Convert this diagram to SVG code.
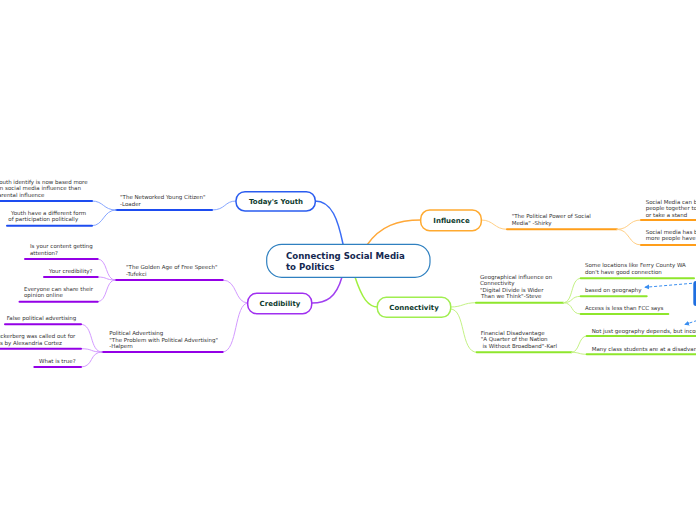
<svg xmlns="http://www.w3.org/2000/svg" width="696" height="520" viewBox="0 0 696 520">
<defs>
<style>
.t{font-family:"DejaVu Sans",Verdana,sans-serif;font-size:5.5px;fill:#333}
.mt{font-family:"DejaVu Sans",Verdana,sans-serif;font-size:7px;font-weight:bold;fill:#0e3b2e;text-anchor:middle}
.ct{font-family:"DejaVu Sans",Verdana,sans-serif;font-size:8.6px;font-weight:bold;fill:#142850}
.c{fill:none;stroke-linecap:round}
.ub{stroke:#1d4cf0;stroke-width:2}
.cb{stroke:#86a6ff;stroke-width:1}
.up{stroke:#9400e6;stroke-width:2}
.cp{stroke:#d39aff;stroke-width:1}
.uo{stroke:#ff9e1a;stroke-width:2}
.co{stroke:#ffcf85;stroke-width:1}
.ul{stroke:#8ee62c;stroke-width:2}
.cl{stroke:#c4f285;stroke-width:1}
.node{fill:#fff;stroke-width:1.5}
.dash{fill:none;stroke:#3a8ef0;stroke-width:1;stroke-dasharray:3,2}
</style>
<marker id="ah" viewBox="0 0 6 6" refX="5" refY="3" markerWidth="5" markerHeight="5" orient="auto">
<path d="M0,0 L6,3 L0,6 z" fill="#3a8ef0"/>
</marker>
</defs>
<rect width="696" height="520" fill="#fff"/>

<g id="connectors">
<!-- main -->
<path class="c" d="M315,201 C332,201 338,220 343,244" stroke="#3a6cf5" stroke-width="1.5"/>
<path class="c" d="M367,245 C380,226 398,220 421,220" stroke="#ffa838" stroke-width="1.5"/>
<path class="c" d="M342,277 C336,298 326,303 312,303" stroke="#a040f0" stroke-width="1.5"/>
<path class="c" d="M355,277 C362,298 368,307 378,307" stroke="#a0f040" stroke-width="1.5"/>
<!-- youth -->
<path class="c cb" d="M212,210 C226,210 224,201 236,201"/>
<path class="c ub" d="M116,210 L212,210"/>
<path class="c cb" d="M92,201 C104,201 103,210 116,210"/>
<path class="c cb" d="M92,225.7 C104,225.7 103,210 116,210"/>
<path class="c ub" d="M-2,201 L92,201"/>
<path class="c ub" d="M7,225.7 L92,225.7"/>
<!-- credibility -->
<path class="c cp" d="M222.7,280 C238,280 234,303 248,303"/>
<path class="c cp" d="M222.7,352 C238,352 234,303 248,303"/>
<path class="c up" d="M115,280 L222.7,280"/>
<path class="c up" d="M102,352 L222.7,352"/>
<path class="c cp" d="M97.7,259 C108,259 105,280 115,280"/>
<path class="c cp" d="M97.7,277 C108,277 105,280 115,280"/>
<path class="c cp" d="M97.7,301.7 C108,301.7 105,280 115,280"/>
<path class="c up" d="M25,259 L97.7,259"/>
<path class="c up" d="M44,277 L97.7,277"/>
<path class="c up" d="M19.5,301.7 L97.7,301.7"/>
<path class="c cp" d="M81,324.3 C94,324.3 89,352 102,352"/>
<path class="c cp" d="M81,348.7 C94,348.7 89,352 102,352"/>
<path class="c cp" d="M81,367 C94,367 89,352 102,352"/>
<path class="c up" d="M5,324.3 L81,324.3"/>
<path class="c up" d="M-2,348.7 L81,348.7"/>
<path class="c up" d="M34.3,367 L81,367"/>
<!-- influence -->
<path class="c co" d="M481.3,220 C494,220 494,229.3 507,229.3"/>
<path class="c uo" d="M507,229.3 L617,229.3"/>
<path class="c co" d="M617,229.3 C630,229.3 628,220 641,220"/>
<path class="c co" d="M617,229.3 C630,229.3 628,245 641,245"/>
<path class="c uo" d="M641,220 L698,220"/>
<path class="c uo" d="M641,245 L698,245"/>
<!-- connectivity -->
<path class="c cl" d="M450.7,307 C463,307 463,302.7 476,302.7"/>
<path class="c cl" d="M450.7,309 C466,309 460,352.3 476.7,352.3"/>
<path class="c ul" d="M476,302.7 L563.3,302.7"/>
<path class="c ul" d="M476.7,352.3 L571.7,352.3"/>
<path class="c cl" d="M563.3,302.7 C574,302.7 570,278.3 580.7,278.3"/>
<path class="c cl" d="M563.3,302.7 C574,302.7 570,296.3 580.7,296.3"/>
<path class="c cl" d="M563.3,302.7 C574,302.7 570,314 580.7,314"/>
<path class="c ul" d="M580.7,278.3 L694,278.3"/>
<path class="c ul" d="M580.7,296.3 L646.7,296.3"/>
<path class="c ul" d="M580.7,314 L668.3,314"/>
<path class="c cl" d="M571.7,352.3 C580,352.3 578,336 586.7,336"/>
<path class="c cl" d="M571.7,352.3 C580,352.3 578,354.3 586.7,354.3"/>
<path class="c ul" d="M586.7,336 L698,336"/>
<path class="c ul" d="M586.7,354.3 L698,354.3"/>
<!-- relationships -->
<path class="dash" d="M692,283.3 L645,287.3" marker-end="url(#ah)"/>
<path class="dash" d="M697,320.5 L685,324.5" marker-end="url(#ah)"/>
</g>

<g id="central">
<rect x="266.7" y="244.3" width="163.3" height="33" rx="15" fill="#fff" stroke="#2f80c0" stroke-width="1.2"/>
<text class="ct" x="286" y="259">Connecting Social Media</text>
<text class="ct" x="286" y="270.3">to Politics</text>
</g>

<g id="todays-youth">
<rect class="node" x="236" y="191.7" width="79.3" height="19.3" rx="9" stroke="#2a5cf0"/>
<text class="mt" x="276" y="204">Today's Youth</text>
</g>
<g id="networked">
<text class="t" x="120" y="198.7">"The Networked Young Citizen"</text>
<text class="t" x="120" y="205.7">-Loader</text>
</g>
<g id="youth-identity">
<text class="t" x="-3.5" y="184">Youth identify is now based more</text>
<text class="t" x="-3.5" y="190.3">on social media influence than</text>
<text class="t" x="-5.5" y="196.7">parental influence</text>
</g>
<g id="youth-participation">
<text class="t" x="11" y="215">Youth have a different form</text>
<text class="t" x="8.3" y="221.3">of participation politically</text>
</g>

<g id="credibility">
<rect class="node" x="247.7" y="293.3" width="64" height="20.4" rx="9" stroke="#a030f0"/>
<text class="mt" x="280" y="305.8">Credibility</text>
</g>
<g id="golden-age">
<text class="t" x="126" y="269">"The Golden Age of Free Speech"</text>
<text class="t" x="126" y="275.7">-Tufekci</text>
</g>
<g id="content-attention">
<text class="t" x="30" y="248">Is your content getting</text>
<text class="t" x="30" y="254.7">attention?</text>
</g>
<g id="your-credibility">
<text class="t" x="49" y="272.7">Your credibility?</text>
</g>
<g id="share-opinion">
<text class="t" x="24" y="291">Everyone can share their</text>
<text class="t" x="24" y="297.3">opinion online</text>
</g>
<g id="political-advertising">
<text class="t" x="109.3" y="335">Political Advertising</text>
<text class="t" x="109.3" y="341.5">"The Problem with Political Advertising"</text>
<text class="t" x="109.3" y="348.3">-Halpern</text>
</g>
<g id="false-ads">
<text class="t" x="6.7" y="320.3">False political advertising</text>
</g>
<g id="zuckerberg">
<text class="t" x="75.3" y="338" text-anchor="end">Zuckerberg was called out for</text>
<text class="t" x="62" y="344.7" text-anchor="end">ads by Alexandria Cortez</text>
</g>
<g id="what-is-true">
<text class="t" x="39" y="362.7">What is true?</text>
</g>

<g id="influence">
<rect class="node" x="420.7" y="210" width="60.6" height="20.7" rx="9" stroke="#ffaa30"/>
<text class="mt" x="451.5" y="222.8">Influence</text>
</g>
<g id="political-power">
<text class="t" x="511.7" y="218">"The Political Power of Social</text>
<text class="t" x="511.7" y="225">Media" -Shirky</text>
</g>
<g id="bring-together">
<text class="t" x="645.7" y="203.5">Social Media can bring</text>
<text class="t" x="645.7" y="210">people together to</text>
<text class="t" x="645.7" y="216.5">or take a stand</text>
</g>
<g id="more-people">
<text class="t" x="645.7" y="233.7">Social media has brought</text>
<text class="t" x="645.7" y="240">more people have</text>
</g>

<g id="connectivity">
<rect class="node" x="377.3" y="297.3" width="73.4" height="20" rx="9" stroke="#a0ee50"/>
<text class="mt" x="414" y="309.8">Connectivity</text>
</g>
<g id="geographical">
<text class="t" x="480" y="279">Geographical influence on</text>
<text class="t" x="480" y="285.3">Connectivity</text>
<text class="t" x="480" y="291.7">"Digital Divide is Wider</text>
<text class="t" x="481" y="298"> Than we Think"-Steve</text>
</g>
<g id="ferry-county">
<text class="t" x="585" y="267">Some locations like Ferry County WA</text>
<text class="t" x="585" y="273.7">don't have good connection</text>
</g>
<g id="based-geography">
<text class="t" x="585" y="291.7">based on geography</text>
</g>
<g id="access-fcc">
<text class="t" x="585" y="309.7">Access is less than FCC says</text>
</g>
<g id="financial">
<text class="t" x="480.7" y="334.7">Financial Disadvantage</text>
<text class="t" x="480.7" y="341.3">"A Quarter of the Nation</text>
<text class="t" x="482.5" y="347.7">is Without Broadband"-Karl</text>
</g>
<g id="not-just-geography">
<text class="t" x="591.7" y="332.7">Not just geography depends, but income</text>
</g>
<g id="class-students">
<text class="t" x="591.7" y="351">Many class students are at a disadvantage</text>
</g>
<g id="floating-topic">
<rect x="693.3" y="281" width="12" height="25" rx="3" fill="#1f6fe0"/>
</g>
</svg>
